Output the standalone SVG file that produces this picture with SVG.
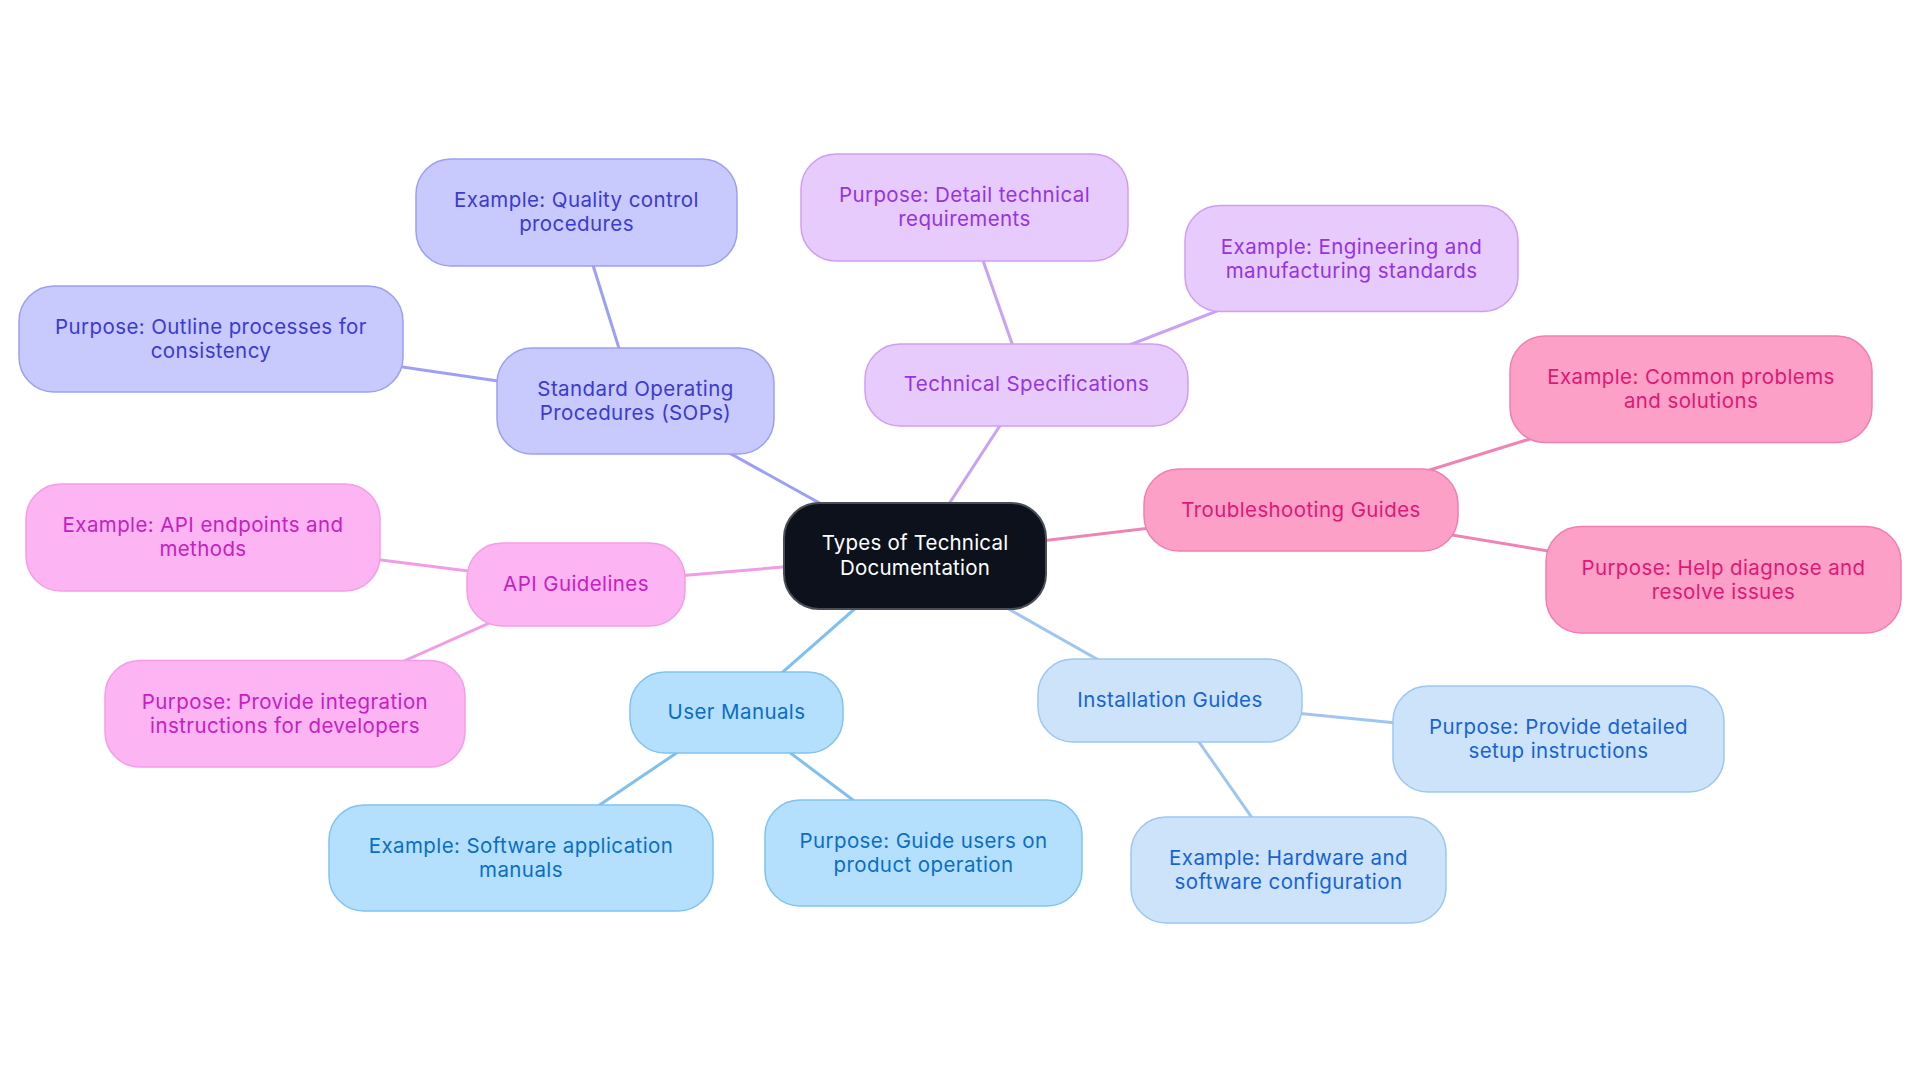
<svg xmlns="http://www.w3.org/2000/svg" width="1920" height="1083" viewBox="0 0 1920 1083">
<style>
text{font-family:Inter,"Noto Sans","Liberation Sans",sans-serif;font-size:20.5px;letter-spacing:0.4px;text-anchor:middle}
rect{stroke-width:1.5}
.e{fill:none;stroke-width:3;stroke-linecap:round}
.sop rect{fill:#c8c9fd;stroke:#9d9ff3}.sop text{fill:#3b3bcf}
.tec rect{fill:#e7cbfd;stroke:#cf9ef3}.tec text{fill:#9634df}
.tro rect{fill:#fda0c8;stroke:#f07fb0}.tro text{fill:#df1776}
.api rect{fill:#fcb4f2;stroke:#f39de6}.api text{fill:#c720c0}
.usr rect{fill:#b4e0fd;stroke:#80c2f2}.usr text{fill:#0b6ec3}
.ins rect{fill:#cde3fa;stroke:#9fc6f1}.ins text{fill:#1864cf}
.root rect{fill:#0c111b;stroke:#4a4f57;stroke-width:2}.root text{fill:#ffffff;letter-spacing:0.2px}
</style>
<rect width="1920" height="1083" fill="#ffffff"/>
<g id="connectors">
<line class="e" x1="915" y1="556" x2="635.5" y2="401" stroke="#9d9ff5"/>
<line class="e" x1="635.5" y1="401" x2="576.5" y2="212.5" stroke="#9d9ff5"/>
<line class="e" x1="635.5" y1="401" x2="211" y2="339" stroke="#9d9ff5"/>
<line class="e" x1="915" y1="556" x2="1026.5" y2="385" stroke="#c9a2f4"/>
<line class="e" x1="1026.5" y1="385" x2="964.5" y2="207.5" stroke="#c9a2f4"/>
<line class="e" x1="1026.5" y1="385" x2="1351.5" y2="258.6" stroke="#c9a2f4"/>
<line class="e" x1="915" y1="556" x2="1301" y2="510" stroke="#ee83b5"/>
<line class="e" x1="1301" y1="510" x2="1691" y2="389" stroke="#ee83b5"/>
<line class="e" x1="1301" y1="510" x2="1723.5" y2="580" stroke="#ee83b5"/>
<line class="e" x1="915" y1="556" x2="576" y2="584.5" stroke="#f19de5"/>
<line class="e" x1="576" y1="584.5" x2="203" y2="537.5" stroke="#f19de5"/>
<line class="e" x1="576" y1="584.5" x2="285" y2="714" stroke="#f19de5"/>
<line class="e" x1="915" y1="556" x2="736.5" y2="712.5" stroke="#7fc0f0"/>
<line class="e" x1="736.5" y1="712.5" x2="521" y2="858" stroke="#7fc0f0"/>
<line class="e" x1="736.5" y1="712.5" x2="923.5" y2="853" stroke="#7fc0f0"/>
<line class="e" x1="915" y1="556" x2="1170" y2="700.5" stroke="#a0c5f0"/>
<line class="e" x1="1170" y1="700.5" x2="1558" y2="739" stroke="#a0c5f0"/>
<line class="e" x1="1170" y1="700.5" x2="1288.5" y2="870" stroke="#a0c5f0"/>
</g>
<g id="n-root" class="root"><rect x="784" y="503" width="262" height="106" rx="35"/><text x="915" y="550">Types of Technical</text><text x="915" y="575">Documentation</text></g>
<g id="n-sop" class="sop"><rect x="497" y="348" width="277" height="106" rx="35"/><text x="635.5" y="396">Standard Operating</text><text x="635.5" y="420">Procedures (SOPs)</text></g>
<g id="n-sop-ex" class="sop"><rect x="416" y="159" width="321" height="107" rx="35"/><text x="576.5" y="207">Example: Quality control</text><text x="576.5" y="231">procedures</text></g>
<g id="n-sop-pu" class="sop"><rect x="19" y="286" width="384" height="106" rx="35"/><text x="211" y="334">Purpose: Outline processes for</text><text x="211" y="358">consistency</text></g>
<g id="n-tec" class="tec"><rect x="865" y="344" width="323" height="82" rx="35"/><text x="1026.5" y="391">Technical Specifications</text></g>
<g id="n-tec-pu" class="tec"><rect x="801" y="154" width="327" height="107" rx="35"/><text x="964.5" y="202">Purpose: Detail technical</text><text x="964.5" y="226">requirements</text></g>
<g id="n-tec-ex" class="tec"><rect x="1185" y="205.5" width="333" height="106" rx="35"/><text x="1351.5" y="253.5">Example: Engineering and</text><text x="1351.5" y="277.5">manufacturing standards</text></g>
<g id="n-tro" class="tro"><rect x="1144" y="469" width="314" height="82" rx="35"/><text x="1301" y="516.5">Troubleshooting Guides</text></g>
<g id="n-tro-ex" class="tro"><rect x="1510" y="336" width="362" height="106.5" rx="35"/><text x="1691" y="384">Example: Common problems</text><text x="1691" y="408">and solutions</text></g>
<g id="n-tro-pu" class="tro"><rect x="1546" y="526.5" width="355" height="106.5" rx="35"/><text x="1723.5" y="575">Purpose: Help diagnose and</text><text x="1723.5" y="599">resolve issues</text></g>
<g id="n-api" class="api"><rect x="467" y="543" width="218" height="83" rx="35"/><text x="576" y="591">API Guidelines</text></g>
<g id="n-api-ex" class="api"><rect x="26" y="484" width="354" height="107" rx="35"/><text x="203" y="532">Example: API endpoints and</text><text x="203" y="556">methods</text></g>
<g id="n-api-pu" class="api"><rect x="105" y="660.5" width="360" height="106.5" rx="35"/><text x="285" y="709">Purpose: Provide integration</text><text x="285" y="733">instructions for developers</text></g>
<g id="n-usr" class="usr"><rect x="630" y="672" width="213" height="81" rx="35"/><text x="736.5" y="719">User Manuals</text></g>
<g id="n-usr-ex" class="usr"><rect x="329" y="805" width="384" height="106" rx="35"/><text x="521" y="853">Example: Software application</text><text x="521" y="877">manuals</text></g>
<g id="n-usr-pu" class="usr"><rect x="765" y="800" width="317" height="106" rx="35"/><text x="923.5" y="848">Purpose: Guide users on</text><text x="923.5" y="872">product operation</text></g>
<g id="n-ins" class="ins"><rect x="1038" y="659" width="264" height="83" rx="35"/><text x="1170" y="707">Installation Guides</text></g>
<g id="n-ins-pu" class="ins"><rect x="1393" y="686" width="331" height="106" rx="35"/><text x="1558.5" y="734">Purpose: Provide detailed</text><text x="1558.5" y="758">setup instructions</text></g>
<g id="n-ins-ex" class="ins"><rect x="1131" y="817" width="315" height="106" rx="35"/><text x="1288.5" y="865">Example: Hardware and</text><text x="1288.5" y="889">software configuration</text></g>
</svg>
